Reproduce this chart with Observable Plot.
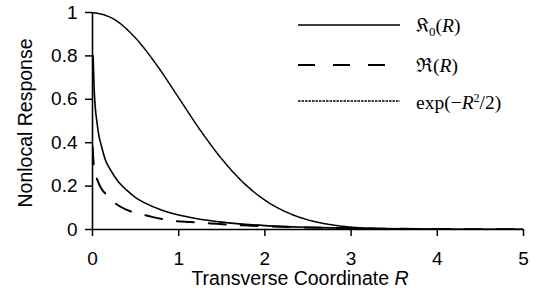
<!DOCTYPE html>
<html><head><meta charset="utf-8">
<script src="https://cdn.jsdelivr.net/npm/d3@7"></script>
<script src="https://cdn.jsdelivr.net/npm/@observablehq/plot@0.6"></script>
<style>body{margin:0;background:#fff}</style>
</head><body><div id="chart"></div>
<script>
// Solid: 𝔎0(R)
const rK = [0.007,0.02,0.035,0.05,0.075,0.1,0.15,0.2,0.3,0.4,0.5,0.6,0.8,1.0,1.2,1.5,2.0,2.5,3.0,4.0,5.0];
const vK = [0.80,0.64,0.55,0.50,0.43,0.39,0.32,0.28,0.22,0.18,0.147,0.124,0.090,0.067,0.051,0.034,0.018,0.010,0.0055,0.0018,0.0006];
// Dashed: ℜ(R)
const rR = [0.002,0.01,0.03,0.05,0.1,0.17,0.25,0.32,0.45,0.55,0.7,0.94,1.14,1.37,1.6,1.8,2.0,2.5,3.0,4.0,5.0];
const vR = [0.38,0.32,0.26,0.235,0.19,0.157,0.125,0.106,0.082,0.072,0.057,0.040,0.034,0.028,0.022,0.018,0.015,0.009,0.006,0.002,0.001];
// Dotted: exp(-R^2/2)
const rG = [0,0.25,0.5,0.75,1,1.25,1.5,1.75,2,2.25,2.5,2.75,3,3.5,4,5];
const vG = [1,0.969,0.882,0.755,0.607,0.458,0.325,0.216,0.135,0.080,0.044,0.023,0.011,0.002,0.0003,0];

const xTicks = [0,1,2,3,4,5];
const xTickLabels = ["0","1","2","3","4","5"];
const yTicks = [0,0.2,0.4,0.6,0.8,1];
const yTickLabels = ["0","0.2","0.4","0.6","0.8","1"];
const seriesNames = ["𝔎", "ℜ", "exp"];

const dK = rK.map((r,i)=>({x:r,y:vK[i]}));
const dR = rR.map((r,i)=>({x:r,y:vR[i]}));
const dG = rG.map((r,i)=>({x:r,y:vG[i]}));

const FS = 19;
const svg = Plot.plot({
  width:536, height:295,
  marginLeft:92, marginRight:13, marginTop:12, marginBottom:66,
  style:{fontFamily:"'Liberation Sans', Arial, sans-serif", fontSize:"19px", color:"#000", background:"#fff"},
  x:{domain:[0,5]},
  y:{domain:[0,1]},
  marks:[
    Plot.axisX({ticks:xTicks, tickFormat:(d)=>xTickLabels[xTicks.indexOf(d)], tickSize:7, tickPadding:15, strokeWidth:1.5, fontSize:FS, label:null}),
    Plot.axisY({ticks:yTicks, tickFormat:(d)=>yTickLabels[yTicks.indexOf(d)], tickSize:7, tickPadding:8, strokeWidth:1.5, fontSize:FS, label:null}),
    Plot.line(dG, {x:"x", y:"y", curve:"monotone-x", stroke:"#000", strokeWidth:1.5, strokeDasharray:"2.5,1", clip:true}),
    Plot.line(dR, {x:"x", y:"y", curve:"monotone-x", stroke:"#000", strokeWidth:2, strokeDasharray:"17,15", clip:true}),
    Plot.line(dK, {x:"x", y:"y", curve:"monotone-x", stroke:"#000", strokeWidth:1.6, clip:true}),
    Plot.ruleX([0], {stroke:"#000", strokeWidth:1.6}),
    Plot.ruleY([0], {stroke:"#000", strokeWidth:1.6})
  ]
});
document.getElementById("chart").appendChild(svg);

const s = d3.select(svg);
s.selectAll("[aria-label$='tick label']").attr("font-size", FS);
// axis labels
s.append("text").attr("transform","translate(32,123) rotate(-90)")
  .attr("text-anchor","middle").attr("font-size",19.5).attr("fill","#000")
  .text("Nonlocal Response");
const xl = s.append("text").attr("x",300).attr("y",285)
  .attr("text-anchor","middle").attr("font-size",19.5).attr("fill","#000");
xl.append("tspan").text("Transverse Coordinate ");
xl.append("tspan").attr("font-style","italic").text("R");

// legend
const lg = s.append("g").attr("font-family","'Liberation Serif','Times New Roman',serif")
  .attr("font-size",19.5).attr("fill","#000").attr("text-anchor","start");
const rows = [{y:25, dash:null, w:1.5},{y:65, dash:"17,18", w:2},{y:101, dash:"2.5,1", w:1.6}];
rows.forEach(r=>{
  lg.append("line").attr("x1",298).attr("x2",400).attr("y1",r.y).attr("y2",r.y)
    .attr("stroke","#000").attr("stroke-width",r.w).attr("stroke-dasharray",r.dash);
});
const t1 = lg.append("text").attr("x",416).attr("y",32);
t1.append("tspan").text(seriesNames[0]);
t1.append("tspan").attr("font-size",13).attr("dy",4).text("0");
t1.append("tspan").attr("dy",-4).text("(");
t1.append("tspan").attr("font-style","italic").text("R");
t1.append("tspan").text(")");
const t2 = lg.append("text").attr("x",416).attr("y",72);
t2.append("tspan").text(seriesNames[1]+"(");
t2.append("tspan").attr("font-style","italic").text("R");
t2.append("tspan").text(")");
const t3 = lg.append("text").attr("x",416).attr("y",109);
t3.append("tspan").text(seriesNames[2]+"(−");
t3.append("tspan").attr("font-style","italic").text("R");
t3.append("tspan").attr("font-size",12).attr("dy",-7).text("2");
t3.append("tspan").attr("dy",7).text("/2)");
</script></body></html>
